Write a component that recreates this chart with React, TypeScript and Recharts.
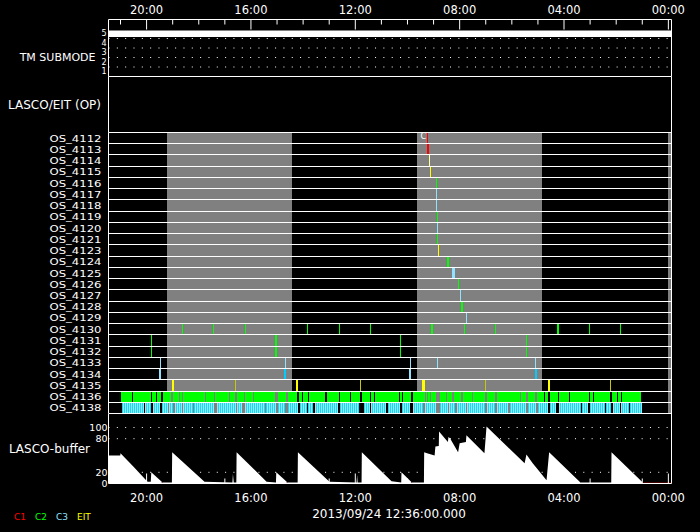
import React from 'react';
import { ComposedChart, XAxis, YAxis, ReferenceArea, ReferenceLine, ReferenceDot, Line, Area } from 'recharts';

// ---------- data ----------
const X_DOMAIN: [number, number] = [-0.12, 21.46];
const HOUR_TICKS = [0, 1, 2, 3, 4, 5, 6, 7, 8, 9, 10, 11, 12, 13, 14, 15, 16, 17, 18, 19, 20, 21];

const TM_LEVELS = [1, 2, 3, 4, 5];
const TM_GRID = [1, 2, 3, 4];
const TM_LABEL_AT = 1.99;
const tmData = [
  { t: 21.46, v: 4.5 },
  { t: -0.12, v: 4.5 },
];

const ROWS = [
  'OS_4112', 'OS_4113', 'OS_4114', 'OS_4115', 'OS_4116', 'OS_4117', 'OS_4118', 'OS_4119',
  'OS_4120', 'OS_4121', 'OS_4123', 'OS_4124', 'OS_4125', 'OS_4126', 'OS_4127', 'OS_4128',
  'OS_4129', 'OS_4130', 'OS_4131', 'OS_4132', 'OS_4133', 'OS_4134', 'OS_4135', 'OS_4136', 'OS_4138',
];

// shaded intervals (hours)
const GRAY_SPANS: [number, number][] = [
  [19.23, 14.42],
  [9.64, 4.85],
  [0.02, -0.12],
];

// [row, centre hour, duration hours]
type Ev = [string, number, number];
const C1_EVENTS: Ev[] = [
  ['OS_4112', 9.25, 0.04],
  ['OS_4113', 9.21, 0.06],
];
const C2_EVENTS: Ev[] = [
  ['OS_4116', 8.905, 0.04], ['OS_4119', 8.866, 0.04], ['OS_4121', 8.866, 0.04],
  ['OS_4124', 8.445, 0.08], ['OS_4126', 8.06, 0.04], ['OS_4128', 7.91, 0.05],
  ['OS_4130', 18.64, 0.04], ['OS_4130', 17.45, 0.04], ['OS_4130', 16.22, 0.04],
  ['OS_4130', 13.85, 0.04], ['OS_4130', 12.62, 0.04], ['OS_4130', 11.43, 0.04],
  ['OS_4130', 9.06, 0.04], ['OS_4130', 7.83, 0.04], ['OS_4130', 6.64, 0.04],
  ['OS_4130', 4.23, 0.04], ['OS_4130', 3.04, 0.04], ['OS_4130', 1.85, 0.04],
  ['OS_4131', 19.82, 0.04], ['OS_4132', 19.82, 0.04],
  ['OS_4131', 15.04, 0.04], ['OS_4132', 15.04, 0.04],
  ['OS_4131', 10.25, 0.04], ['OS_4132', 10.25, 0.04],
  ['OS_4131', 5.44, 0.04], ['OS_4132', 5.44, 0.07],
];
const C3_EVENTS: Ev[] = [
  ['OS_4117', 8.905, 0.04], ['OS_4118', 8.905, 0.04], ['OS_4120', 8.866, 0.04],
  ['OS_4125', 8.25, 0.11], ['OS_4127', 7.95, 0.04], ['OS_4129', 7.755, 0.04],
  ['OS_4133', 19.48, 0.04], ['OS_4133', 14.69, 0.04], ['OS_4133', 9.9, 0.04],
  ['OS_4133', 8.866, 0.04], ['OS_4133', 5.11, 0.04],
  ['OS_4134', 19.48, 0.06], ['OS_4134', 9.9, 0.06],
];
const C3_BRIGHT_EVENTS: Ev[] = [
  ['OS_4134', 14.69, 0.06], ['OS_4134', 5.06, 0.07],
];
const EIT_EVENTS: Ev[] = [
  ['OS_4115', 9.1, 0.04], ['OS_4123', 8.81, 0.07],
  ['OS_4135', 19.0, 0.08], ['OS_4135', 14.22, 0.08], ['OS_4135', 9.4, 0.11], ['OS_4135', 4.59, 0.08],
];
const EIT_PALE_EVENTS: Ev[] = [['OS_4114', 9.17, 0.04]];
const EIT_DIM_EVENTS: Ev[] = [
  ['OS_4135', 16.59, 0.06], ['OS_4135', 11.8, 0.06], ['OS_4135', 7.01, 0.06], ['OS_4135', 2.22, 0.06],
];

// dense runs: [start hour, end hour]
const C2_RUNS_4136: [number, number][] = [
  [20.99, 20.56], [20.51, 19.82], [19.79, 19.64], [19.59, 19.44], [19.36, 19.06], [18.97, 18.75],
  [18.71, 18.65], [18.6, 17.78], [17.74, 17.42], [17.37, 16.84], [16.8, 16.63], [16.53, 16.27],
  [16.21, 15.92], [15.89, 15.07], [14.97, 14.65], [14.59, 14.24], [14.15, 14.05], [14.01, 13.82],
  [13.77, 13.16], [13.08, 12.64], [12.58, 12.21], [12.16, 11.82], [11.75, 11.45], [11.4, 11.29],
  [11.24, 10.33], [10.3, 10.22], [10.17, 9.86], [9.79, 9.46], [9.43, 9.33], [9.3, 9.25],
  [9.21, 9.12], [9.08, 8.92], [8.76, 8.51], [8.47, 8.35], [8.33, 8.28], [8.2, 7.93],
  [7.87, 7.54], [7.49, 7.03], [6.95, 6.64], [6.57, 5.7], [5.65, 5.44], [5.39, 5.11],
  [5.04, 4.77], [4.71, 4.61], [4.55, 4.24], [4.19, 3.82], [3.77, 3.05], [3.0, 2.89],
  [2.85, 2.25], [2.16, 1.97], [1.92, 1.82], [1.76, 1.06],
];
const C3_RUNS_4138: [number, number][] = [
  [20.95, 20.1], [20.07, 19.82], [19.77, 19.48], [19.4, 19.18], [19.15, 18.99], [18.93, 18.65],
  [18.6, 18.24], [18.2, 17.42], [17.3, 16.59], [16.53, 16.36], [16.23, 15.48], [15.43, 15.04],
  [14.98, 14.69], [14.59, 14.2], [14.12, 13.86], [13.81, 13.62], [13.55, 12.67], [12.58, 11.84],
  [11.68, 11.45], [11.4, 10.81], [10.74, 10.27], [10.21, 9.91], [9.8, 9.4], [9.34, 8.89],
  [8.76, 8.45], [8.41, 8.19], [8.12, 7.74], [7.72, 7.03], [6.95, 6.66], [6.57, 6.15],
  [6.08, 5.44], [5.38, 5.06], [5.0, 4.61], [4.55, 4.29], [4.2, 3.36], [3.3, 3.08],
  [3.0, 2.43], [2.38, 2.21], [2.13, 1.87], [1.82, 1.51], [1.46, 1.02],
];

const MARKS = [{ row: 'OS_4112', t: 9.39, text: 'C' }];

// LASCO buffer fill (%)
const bufferData = [
  { t: 21.46, v: 50 }, { t: 21.01, v: 50 }, { t: 21.0, v: 54 }, { t: 20.5, v: 30 }, { t: 20.0, v: 5 },
  { t: 19.96, v: 3 }, { t: 19.84, v: 3 }, { t: 19.82, v: 20 }, { t: 19.42, v: 3 }, { t: 19.41, v: 0 },
  { t: 19.4, v: 2 }, { t: 19.03, v: 2 }, { t: 19.02, v: 56 }, { t: 17.78, v: 3 }, { t: 16.71, v: 2 },
  { t: 16.69, v: 17 }, { t: 16.66, v: 2 }, { t: 16.56, v: 2 }, { t: 16.55, v: 56 }, { t: 15.4, v: 3 },
  { t: 15.04, v: 2 }, { t: 15.03, v: 20 }, { t: 14.63, v: 3 }, { t: 14.62, v: 0 }, { t: 14.61, v: 2 },
  { t: 14.21, v: 2 }, { t: 14.2, v: 56 }, { t: 12.99, v: 3 }, { t: 11.95, v: 2 }, { t: 11.93, v: 15 },
  { t: 11.91, v: 2 }, { t: 11.76, v: 2 }, { t: 11.75, v: 56 }, { t: 10.61, v: 4 }, { t: 10.24, v: 2 },
  { t: 10.23, v: 20 }, { t: 9.86, v: 3 }, { t: 9.85, v: 0 }, { t: 9.84, v: 2 }, { t: 9.37, v: 2 },
  { t: 9.36, v: 56 }, { t: 9.25, v: 54 }, { t: 8.96, v: 50 }, { t: 8.93, v: 66 }, { t: 8.8, v: 67 },
  { t: 8.79, v: 93 }, { t: 8.45, v: 74 }, { t: 8.43, v: 83 }, { t: 8.37, v: 81 }, { t: 8.06, v: 56 },
  { t: 8.0, v: 72 }, { t: 7.76, v: 74 }, { t: 7.74, v: 86 }, { t: 7.05, v: 54 }, { t: 6.97, v: 102 },
  { t: 5.51, v: 36 }, { t: 5.44, v: 52 }, { t: 5.2, v: 36 }, { t: 4.67, v: 6 }, { t: 4.57, v: 56 },
  { t: 3.4, v: 3 }, { t: 3.38, v: 2 }, { t: 2.19, v: 2 }, { t: 2.18, v: 56 }, { t: 1.01, v: 3 },
  { t: 1.0, v: 0 }, { t: -0.12, v: 0 },
];
// buffer empty markers
const zeroData = [
  { t: 19.43, z: 0 }, { t: 19.39, z: 0 }, { t: 19.38, z: null },
  { t: 14.64, z: 0 }, { t: 14.6, z: 0 }, { t: 14.59, z: null },
  { t: 9.87, z: 0 }, { t: 9.83, z: 0 }, { t: 9.82, z: null },
  { t: 1.0, z: 0 }, { t: -0.12, z: 0 },
];
const BUF_TICKS = [0, 20, 80, 100];
const BUF_GRID = [20, 80, 100];
const BUF_LABEL_AT = 61.3;

const LEGEND = [
  { key: 'C1', label: 'C1' },
  { key: 'C2', label: 'C2' },
  { key: 'C3', label: 'C3' },
  { key: 'EIT', label: 'EIT' },
];
const DATE_LABEL = '2013/09/24 12:36:00.000';

// ---------- styles ----------
const FONT = 'DejaVu Sans';
const COLORS: Record<string, string> = {
  C1: '#ff0000',
  C2: '#00ff00',
  C3: '#90e2ff',
  C3b: '#00ccff',
  EIT: '#ffff00',
  EITpale: '#ffffa0',
  EITdim: '#c8c800',
  gray: '#808080',
};
const DOTS = '1 7.33';
const fmtHour = (h: number) => `${h < 10 ? '0' : ''}${h}:00`;

const TopTick = (p: any) => {
  const { x, y, payload } = p;
  const major = payload.value % 4 === 0;
  return (
    <g>
      <line x1={x} x2={x} y1={y} y2={y + (major ? 10 : 5)} stroke="#fff" />
      {major && (
        <text x={x} y={y - 9.5} fill="#fff" fontFamily={FONT} fontSize={11.5} textAnchor="middle" dominantBaseline="central">
          {fmtHour(payload.value)}
        </text>
      )}
    </g>
  );
};
const BottomTick = (p: any) => {
  const { x, y, payload } = p;
  const major = payload.value % 4 === 0;
  return (
    <g>
      <line x1={x} x2={x} y1={y} y2={y - (major ? 10 : 5)} stroke="#fff" />
      {major && (
        <text x={x} y={y + 14.5} fill="#fff" fontFamily={FONT} fontSize={11.5} textAnchor="middle" dominantBaseline="central">
          {fmtHour(payload.value)}
        </text>
      )}
    </g>
  );
};
const TmTick = (p: any) => {
  const { x, y, payload } = p;
  if (payload.value === TM_LABEL_AT) {
    return (
      <text x={x - 13} y={y} fill="#fff" fontFamily={FONT} fontSize={11} textAnchor="end" dominantBaseline="central">
        TM SUBMODE
      </text>
    );
  }
  return (
    <text x={x - 2} y={y + 4.5} fill="#fff" fontFamily={FONT} fontSize={8} textAnchor="end" dominantBaseline="central">
      {payload.value}
    </text>
  );
};
const OpTick = (p: any) => (
  <text x={p.x - 7.5} y={p.y} fill="#fff" fontFamily={FONT} fontSize={12} textAnchor="end" dominantBaseline="central">
    LASCO/EIT (OP)
  </text>
);
const RowTick = (p: any) => {
  const idx = Math.floor(p.payload.value);
  return (
    <text
      x={p.x - 7}
      y={p.y}
      fill="#fff"
      fontFamily={FONT}
      fontSize={9.5}
      textAnchor="end"
      dominantBaseline="central"
      textLength={52}
      lengthAdjust="spacingAndGlyphs"
    >
      {ROWS[idx]}
    </text>
  );
};
const BufTick = (p: any) => {
  const { x, y, payload } = p;
  if (payload.value === BUF_LABEL_AT) {
    return (
      <text x={x - 18.5} y={y} fill="#fff" fontFamily={FONT} fontSize={12} textAnchor="end" dominantBaseline="central">
        LASCO-buffer
      </text>
    );
  }
  return (
    <text x={x - 1} y={y} fill="#fff" fontFamily={FONT} fontSize={9.5} textAnchor="end" dominantBaseline="central">
      {payload.value}
    </text>
  );
};

const rowIndex = (name: string) => ROWS.indexOf(name);
const eventAreas = (list: Ev[], color: string, prefix: string) =>
  list.map(([row, t, d], i) => {
    const r = rowIndex(row);
    return (
      <ReferenceArea
        key={`${prefix}${i}`}
        x1={t + d / 2}
        x2={t - d / 2}
        y1={r}
        y2={r + 1}
        fill={color}
        fillOpacity={1}
        stroke="none"
        shapeRendering="crispEdges"
      />
    );
  });
const runAreas = (list: [number, number][], row: string, fill: string, prefix: string) => {
  const r = rowIndex(row);
  return list.map(([a, b], i) => (
    <ReferenceArea key={`${prefix}${i}`} x1={a} x2={b} y1={r} y2={r + 1} fill={fill} fillOpacity={1} stroke="none" shapeRendering="crispEdges" />
  ));
};

const MARGIN = { top: 0, right: 28.5, bottom: 0, left: 0 };
const Y_W = 108.5;
const rowTicks = ROWS.map((_, i) => i + 0.5);
const rowLines = Array.from({ length: ROWS.length + 1 }, (_, i) => i);

export default function App() {
  return (
    <div style={{ position: 'absolute', left: 0, top: 0, width: 700, height: 532, background: '#000', overflow: 'hidden' }}>
      {/* TM SUBMODE panel with top time axis */}
      <div style={{ position: 'absolute', left: 0, top: 0 }}>
        <ComposedChart width={700} height={76.5} data={tmData} margin={MARGIN}>
          <XAxis
            type="number"
            dataKey="t"
            domain={X_DOMAIN}
            allowDataOverflow
            reversed
            orientation="top"
            height={19.5}
            ticks={HOUR_TICKS}
            interval={0}
            tickSize={0}
            tickMargin={0}
            tickLine={false}
            axisLine={{ stroke: '#fff' }}
            tick={(p: any) => <TopTick {...p} />}
          />
          <YAxis
            type="number"
            domain={[0, 6]}
            allowDataOverflow
            width={Y_W}
            ticks={[...TM_LEVELS, TM_LABEL_AT]}
            interval={0}
            tickSize={0}
            tickMargin={0}
            tickLine={false}
            axisLine={{ stroke: '#fff' }}
            tick={(p: any) => <TmTick {...p} />}
          />
          {TM_GRID.map((g) => (
            <ReferenceLine key={`tg${g}`} y={g} stroke="#fff" strokeDasharray={DOTS} />
          ))}
          <ReferenceLine y={0} stroke="#fff" />
          <ReferenceLine x={X_DOMAIN[0]} stroke="#fff" />
          <Line type="linear" dataKey="v" stroke="#fff" strokeWidth={6.5} dot={false} activeDot={false} isAnimationActive={false} />
        </ComposedChart>
      </div>

      {/* LASCO/EIT (OP) panel */}
      <div style={{ position: 'absolute', left: 0, top: 76 }}>
        <ComposedChart width={700} height={56.5} data={tmData} margin={{ ...MARGIN, top: 0.5 }}>
          <XAxis type="number" dataKey="t" domain={X_DOMAIN} allowDataOverflow reversed hide />
          <YAxis
            type="number"
            domain={[0, 1]}
            allowDataOverflow
            width={Y_W}
            ticks={[0.5]}
            tickSize={0}
            tickMargin={0}
            tickLine={false}
            axisLine={{ stroke: '#fff' }}
            tick={(p: any) => <OpTick {...p} />}
          />
          <ReferenceLine y={0} stroke="#fff" />
          <ReferenceLine x={X_DOMAIN[0]} stroke="#fff" />
        </ComposedChart>
      </div>

      {/* OS rows panel */}
      <div style={{ position: 'absolute', left: 0, top: 132 }}>
        <ComposedChart width={700} height={281.5} data={tmData} margin={{ ...MARGIN, top: 0.5 }}>
          <defs>
            <pattern id="c3stripe" width="2" height="6" patternUnits="userSpaceOnUse">
              <rect x="0" y="0" width="1" height="6" fill="#00e0ff" />
              <rect x="1" y="0" width="1" height="6" fill="#a8e2ee" />
            </pattern>
          </defs>
          <XAxis type="number" dataKey="t" domain={X_DOMAIN} allowDataOverflow reversed hide />
          <YAxis
            type="number"
            domain={[0, ROWS.length]}
            reversed
            allowDataOverflow
            width={Y_W}
            ticks={rowTicks}
            interval={0}
            tickSize={0}
            tickMargin={0}
            tickLine={false}
            axisLine={{ stroke: '#fff' }}
            tick={(p: any) => <RowTick {...p} />}
          />
          {GRAY_SPANS.map(([a, b], i) => (
            <ReferenceArea key={`g${i}`} x1={a} x2={b} y1={0} y2={ROWS.length} fill={COLORS.gray} fillOpacity={1} stroke="none" shapeRendering="crispEdges" />
          ))}
          {runAreas(C2_RUNS_4136, 'OS_4136', COLORS.C2, 'r2-')}
          {runAreas(C3_RUNS_4138, 'OS_4138', 'url(#c3stripe)', 'r3-')}
          {eventAreas(C1_EVENTS, COLORS.C1, 'c1-')}
          {eventAreas(C2_EVENTS, COLORS.C2, 'c2-')}
          {eventAreas(C3_EVENTS, COLORS.C3, 'c3-')}
          {eventAreas(C3_BRIGHT_EVENTS, COLORS.C3b, 'c3b-')}
          {eventAreas(EIT_EVENTS, COLORS.EIT, 'e-')}
          {eventAreas(EIT_PALE_EVENTS, COLORS.EITpale, 'ep-')}
          {eventAreas(EIT_DIM_EVENTS, COLORS.EITdim, 'ed-')}
          {rowLines.map((k) => (
            <ReferenceLine key={`rl${k}`} y={k} stroke="#fff" shapeRendering="crispEdges" />
          ))}
          <ReferenceLine x={X_DOMAIN[0]} stroke="#fff" />
          {MARKS.map((m, i) => (
            <ReferenceDot
              key={`m${i}`}
              x={m.t}
              y={rowIndex(m.row) + 0.32}
              r={0}
              fill="none"
              stroke="none"
              label={{ value: m.text, fill: '#fff', fontSize: 8, fontFamily: FONT, position: 'center' }}
            />
          ))}
        </ComposedChart>
      </div>

      {/* LASCO buffer panel with bottom time axis */}
      <div style={{ position: 'absolute', left: 0, top: 413 }}>
        <ComposedChart width={700} height={92.5} data={bufferData} margin={{ ...MARGIN, top: 0.5 }}>
          <YAxis
            type="number"
            domain={[0, 125]}
            allowDataOverflow
            width={Y_W}
            ticks={[...BUF_TICKS, BUF_LABEL_AT]}
            interval={0}
            tickSize={0}
            tickMargin={0}
            tickLine={false}
            axisLine={{ stroke: '#fff' }}
            tick={(p: any) => <BufTick {...p} />}
          />
          {BUF_GRID.map((g) => (
            <ReferenceLine key={`bg${g}`} y={g} stroke="#fff" strokeDasharray={DOTS} />
          ))}
          <ReferenceLine x={X_DOMAIN[0]} stroke="#fff" />
          <Area type="linear" dataKey="v" stroke="none" fill="#fff" fillOpacity={1} dot={false} activeDot={false} isAnimationActive={false} />
          <XAxis
            type="number"
            dataKey="t"
            domain={X_DOMAIN}
            allowDataOverflow
            reversed
            orientation="bottom"
            height={22}
            ticks={HOUR_TICKS}
            interval={0}
            tickSize={0}
            tickMargin={0}
            tickLine={false}
            axisLine={{ stroke: '#fff' }}
            tick={(p: any) => <BottomTick {...p} />}
          />
          <Line
            data={zeroData}
            type="linear"
            dataKey="z"
            stroke={COLORS.C1}
            strokeWidth={1.5}
            dot={false}
            activeDot={false}
            connectNulls={false}
            isAnimationActive={false}
          />
        </ComposedChart>
      </div>

      {/* legend and date */}
      <svg width={700} height={532} style={{ position: 'absolute', left: 0, top: 0, pointerEvents: 'none' }}>
        {LEGEND.map((l, i) => (
          <text key={l.key} x={14 + i * 21} y={517} fill={COLORS[l.key]} fontFamily={FONT} fontSize={9} dominantBaseline="central">
            {l.label}
          </text>
        ))}
        <text x={389} y={513.5} fill="#fff" fontFamily={FONT} fontSize={12} textAnchor="middle" dominantBaseline="central">
          {DATE_LABEL}
        </text>
      </svg>
    </div>
  );
}
